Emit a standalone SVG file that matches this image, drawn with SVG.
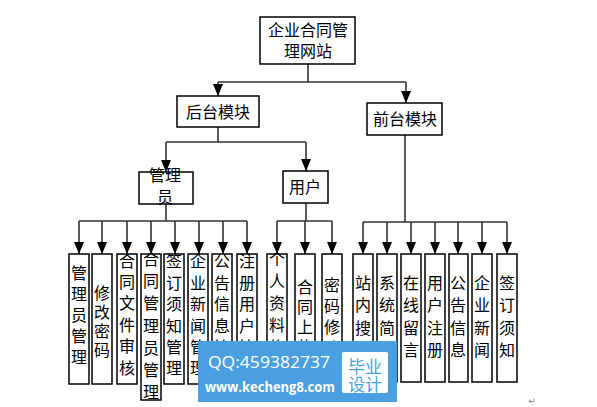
<svg xmlns="http://www.w3.org/2000/svg" width="597" height="407" viewBox="0 0 597 407">
<defs>
<style>
.box{fill:#fff;stroke:#000;stroke-width:1.5}
.t{font-family:"Liberation Serif","Noto Sans CJK SC",serif;font-size:16px;text-anchor:middle;dominant-baseline:central;fill:#000}
.c{stroke:#333;stroke-width:1.6;fill:none}
.a{stroke:#333;stroke-width:1.6;fill:none;marker-end:url(#ah)}
</style>
<marker id="ah" markerUnits="userSpaceOnUse" markerWidth="12" markerHeight="10" refX="12" refY="5" orient="auto">
<path d="M0,0 L12,5 L0,10 z" fill="#000"/>
</marker>
</defs>
<rect width="597" height="407" fill="#fff"/>

<g id="connectors">
<path class="c" d="M308,64 V82 M218,82 H406"/>
<path class="a" d="M218,82 V96"/>
<path class="a" d="M406,82 V103"/>
<path class="c" d="M218,127 V142 M166,142 H306"/>
<path class="a" d="M166,142 V172"/>
<path class="a" d="M306,142 V171"/>
<path class="c" d="M166,204 V221 M79,221 H247"/>
<path class="a" d="M79,221 V254"/>
<path class="a" d="M102,221 V254"/>
<path class="a" d="M127,221 V254"/>
<path class="a" d="M151,221 V254"/>
<path class="a" d="M175,221 V254"/>
<path class="a" d="M199,221 V254"/>
<path class="a" d="M223,221 V254"/>
<path class="a" d="M247,221 V254"/>
<path class="c" d="M306,203 V221 M277,221 H332"/>
<path class="a" d="M277,221 V254"/>
<path class="a" d="M305,221 V254"/>
<path class="a" d="M332,221 V254"/>
<path class="c" d="M405,135 V222 M363,222 H507"/>
<path class="a" d="M363,222 V254"/>
<path class="a" d="M387,222 V254"/>
<path class="a" d="M411,222 V254"/>
<path class="a" d="M435,222 V254"/>
<path class="a" d="M458,222 V254"/>
<path class="a" d="M482,222 V254"/>
<path class="a" d="M507,222 V254"/>
</g>

<g id="root"><rect class="box" x="260" y="17" width="95" height="47"/>
<text class="t" x="308" y="30">企业合同管</text><text class="t" x="308" y="51">理网站</text></g>
<g id="backend"><rect class="box" x="177" y="96" width="82" height="31"/><text class="t" x="218" y="112">后台模块</text></g>
<g id="frontend"><rect class="box" x="367" y="103" width="75" height="32"/><text class="t" x="405" y="119">前台模块</text></g>
<g id="admin"><rect class="box" x="139" y="172" width="54" height="32"/><text class="t" x="165" y="175">管理</text><text class="t" x="165" y="197">员</text></g>
<g id="user"><rect class="box" x="283" y="171" width="45" height="32"/><text class="t" x="305" y="187">用户</text></g>

<g id="a1"><rect class="box" x="69" y="254" width="20" height="130"/><text class="t" x="79"><tspan x="79" y="273">管</tspan><tspan x="79" y="294">理</tspan><tspan x="79" y="315">员</tspan><tspan x="79" y="336">管</tspan><tspan x="79" y="357">理</tspan></text></g>
<g id="a2"><rect class="box" x="92" y="254" width="20" height="130"/><text class="t"><tspan x="102" y="293">修</tspan><tspan x="102" y="312">改</tspan><tspan x="102" y="331">密</tspan><tspan x="102" y="350">码</tspan></text></g>
<g id="a3"><rect class="box" x="117" y="254" width="20" height="130"/><text class="t"><tspan x="127" y="261">合</tspan><tspan x="127" y="282">同</tspan><tspan x="127" y="303">文</tspan><tspan x="127" y="325">件</tspan><tspan x="127" y="346">审</tspan><tspan x="127" y="368">核</tspan></text></g>
<g id="a4"><rect class="box" x="141" y="254" width="20" height="146"/><text class="t"><tspan x="151" y="259">合</tspan><tspan x="151" y="281">同</tspan><tspan x="151" y="303">管</tspan><tspan x="151" y="326">理</tspan><tspan x="151" y="348">员</tspan><tspan x="151" y="370">管</tspan><tspan x="151" y="392">理</tspan></text></g>
<g id="a5"><rect class="box" x="164" y="254" width="20" height="130"/><text class="t"><tspan x="174" y="261">签</tspan><tspan x="174" y="283">订</tspan><tspan x="174" y="304">须</tspan><tspan x="174" y="326">知</tspan><tspan x="174" y="347">管</tspan><tspan x="174" y="368">理</tspan></text></g>
<g id="a6"><rect class="box" x="188" y="254" width="20" height="130"/><text class="t"><tspan x="198" y="261">企</tspan><tspan x="198" y="283">业</tspan><tspan x="198" y="304">新</tspan><tspan x="198" y="326">闻</tspan><tspan x="198" y="347">管</tspan><tspan x="198" y="368">理</tspan></text></g>
<g id="a7"><rect class="box" x="212" y="254" width="20" height="130"/><text class="t"><tspan x="222" y="261">公</tspan><tspan x="222" y="283">告</tspan><tspan x="222" y="304">信</tspan><tspan x="222" y="326">息</tspan><tspan x="222" y="347">管</tspan><tspan x="222" y="368">理</tspan></text></g>
<g id="a8"><rect class="box" x="237" y="254" width="20" height="130"/><text class="t"><tspan x="247" y="261">注</tspan><tspan x="247" y="283">册</tspan><tspan x="247" y="304">用</tspan><tspan x="247" y="326">户</tspan><tspan x="247" y="347">管</tspan><tspan x="247" y="368">理</tspan></text></g>

<g id="u1"><rect class="box" x="267" y="254" width="20" height="130"/><text class="t"><tspan x="277" y="259">个</tspan><tspan x="277" y="281">人</tspan><tspan x="277" y="303">资</tspan><tspan x="277" y="325">料</tspan><tspan x="277" y="347">修</tspan><tspan x="277" y="369">改</tspan></text></g>
<g id="u2"><rect class="box" x="295" y="254" width="20" height="130"/><text class="t"><tspan x="305" y="287">合</tspan><tspan x="305" y="307">同</tspan><tspan x="305" y="327">上</tspan><tspan x="305" y="347">传</tspan></text></g>
<g id="u3"><rect class="box" x="322" y="254" width="20" height="130"/><text class="t"><tspan x="332" y="285">密</tspan><tspan x="332" y="306">码</tspan><tspan x="332" y="327">修</tspan><tspan x="332" y="348">改</tspan></text></g>

<g id="f1"><rect class="box" x="353" y="254" width="20" height="128"/><text class="t"><tspan x="363" y="283">站</tspan><tspan x="363" y="305">内</tspan><tspan x="363" y="328">搜</tspan><tspan x="363" y="350">索</tspan></text></g>
<g id="f2"><rect class="box" x="377" y="254" width="20" height="128"/><text class="t"><tspan x="387" y="283">系</tspan><tspan x="387" y="305">统</tspan><tspan x="387" y="328">简</tspan><tspan x="387" y="350">介</tspan></text></g>
<g id="f3"><rect class="box" x="401" y="254" width="20" height="128"/><text class="t"><tspan x="411" y="283">在</tspan><tspan x="411" y="305">线</tspan><tspan x="411" y="328">留</tspan><tspan x="411" y="350">言</tspan></text></g>
<g id="f4"><rect class="box" x="425" y="254" width="20" height="128"/><text class="t"><tspan x="435" y="283">用</tspan><tspan x="435" y="305">户</tspan><tspan x="435" y="328">注</tspan><tspan x="435" y="350">册</tspan></text></g>
<g id="f5"><rect class="box" x="449" y="254" width="19" height="128"/><text class="t"><tspan x="458" y="283">公</tspan><tspan x="458" y="305">告</tspan><tspan x="458" y="328">信</tspan><tspan x="458" y="350">息</tspan></text></g>
<g id="f6"><rect class="box" x="472" y="254" width="20" height="128"/><text class="t"><tspan x="482" y="283">企</tspan><tspan x="482" y="305">业</tspan><tspan x="482" y="328">新</tspan><tspan x="482" y="350">闻</tspan></text></g>
<g id="f7"><rect class="box" x="497" y="254" width="20" height="128"/><text class="t"><tspan x="507" y="283">签</tspan><tspan x="507" y="305">订</tspan><tspan x="507" y="328">须</tspan><tspan x="507" y="350">知</tspan></text></g>

<text x="532" y="404" font-family="DejaVu Sans, sans-serif" font-size="9" fill="#888" text-anchor="middle">↵</text>

<g id="watermark">
<rect x="198" y="341" width="199" height="61" fill="#4a9fe0"/>
<text x="208" y="368" font-family="'Open Sans', sans-serif" font-size="17" fill="#fff" textLength="122" lengthAdjust="spacingAndGlyphs">QQ:459382737</text>
<text x="205" y="392" font-family="'Open Sans', sans-serif" font-size="14" font-weight="bold" fill="#fff" textLength="130" lengthAdjust="spacingAndGlyphs">www.kecheng8.com</text>
<rect x="342" y="352" width="46" height="41" rx="2" fill="#fff"/>
<text x="365" y="365" font-family="'Noto Sans CJK SC', sans-serif" font-size="17" fill="#4a9fe0" text-anchor="middle" dominant-baseline="central">毕业</text>
<text x="365" y="383" font-family="'Noto Sans CJK SC', sans-serif" font-size="17" fill="#4a9fe0" text-anchor="middle" dominant-baseline="central">设计</text>
</g>
</svg>
